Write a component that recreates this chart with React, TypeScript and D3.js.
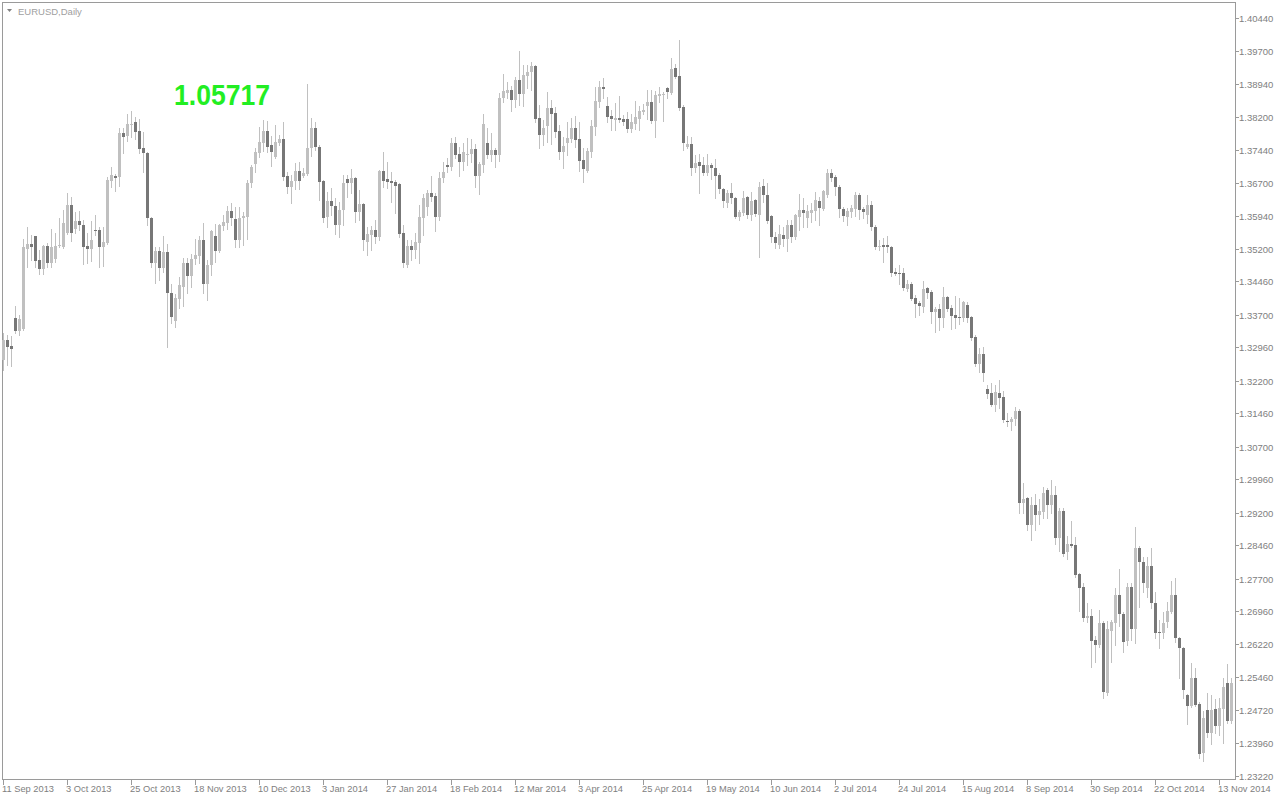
import React from 'react';
import * as d3 from 'd3';

const SYMBOL = 'EURUSD,Daily';
const OVERLAY_VALUE = '1.05717';

const DATE_LABELS = [
  '11 Sep 2013', '3 Oct 2013', '25 Oct 2013', '18 Nov 2013', '10 Dec 2013',
  '3 Jan 2014', '27 Jan 2014', '18 Feb 2014', '12 Mar 2014', '3 Apr 2014',
  '25 Apr 2014', '19 May 2014', '10 Jun 2014', '2 Jul 2014', '24 Jul 2014',
  '15 Aug 2014', '8 Sep 2014', '30 Sep 2014', '22 Oct 2014', '13 Nov 2014',
];
const BARS_PER_LABEL = 16;

const PRICE_TICKS = [
  1.4044, 1.397, 1.3894, 1.382, 1.3744, 1.367, 1.3594, 1.352, 1.3446, 1.337,
  1.3296, 1.322, 1.3146, 1.307, 1.2996, 1.292, 1.2846, 1.277, 1.2696, 1.2622,
  1.2546, 1.2472, 1.2396, 1.2322,
];

const OPEN = [
  1.3267, 1.3313, 1.3299, 1.3363, 1.3333, 1.3338, 1.3519, 1.3531, 1.3549, 1.3494,
  1.3474, 1.3526, 1.3488, 1.3497, 1.3526, 1.3524, 1.3556, 1.3619, 1.3565, 1.3583,
  1.3574, 1.3526, 1.3519, 1.3562, 1.3562, 1.3524, 1.3533, 1.3674, 1.3685, 1.3683,
  1.3783, 1.3776, 1.3803, 1.3808, 1.3787, 1.3749, 1.3737, 1.3590, 1.3488, 1.3515,
  1.3476, 1.3513, 1.3419, 1.3356, 1.3406, 1.3433, 1.3488, 1.3458, 1.3497, 1.3503,
  1.3540, 1.3440, 1.3483, 1.3549, 1.3515, 1.3572, 1.3578, 1.3606, 1.3587, 1.3540,
  1.3590, 1.3592, 1.3669, 1.3712, 1.3737, 1.3760, 1.3787, 1.3756, 1.3728, 1.3760,
  1.3769, 1.3685, 1.3660, 1.3674, 1.3696, 1.3685, 1.3690, 1.3749, 1.3794, 1.3751,
  1.3674, 1.3592, 1.3628, 1.3617, 1.3574, 1.3608, 1.3678, 1.3669, 1.3681, 1.3603,
  1.3621, 1.3535, 1.3551, 1.3562, 1.3547, 1.3696, 1.3678, 1.3674, 1.3671, 1.3667,
  1.3556, 1.3483, 1.3526, 1.3517, 1.3533, 1.3590, 1.3615, 1.3647, 1.3640, 1.3592,
  1.3681, 1.3710, 1.3706, 1.3760, 1.3735, 1.3717, 1.3735, 1.3735, 1.3746, 1.3685,
  1.3710, 1.3760, 1.3733, 1.3744, 1.3733, 1.3862, 1.3874, 1.3880, 1.3858, 1.3903,
  1.3871, 1.3912, 1.3921, 1.3935, 1.3817, 1.3778, 1.3799, 1.3840, 1.3828, 1.3787,
  1.3740, 1.3760, 1.3769, 1.3794, 1.3769, 1.3721, 1.3696, 1.3740, 1.3796, 1.3853,
  1.3887, 1.3844, 1.3821, 1.3812, 1.3817, 1.3815, 1.3815, 1.3792, 1.3803, 1.3815,
  1.3830, 1.3844, 1.3853, 1.3810, 1.3867, 1.3869, 1.3885, 1.3874, 1.3930, 1.3912,
  1.3842, 1.3751, 1.3758, 1.3703, 1.3717, 1.3710, 1.3692, 1.3710, 1.3703, 1.3687,
  1.3656, 1.3624, 1.3647, 1.3635, 1.3592, 1.3601, 1.3637, 1.3596, 1.3631, 1.3596,
  1.3662, 1.3642, 1.3594, 1.3547, 1.3528, 1.3551, 1.3542, 1.3574, 1.3547, 1.3592,
  1.3608, 1.3590, 1.3601, 1.3606, 1.3628, 1.3610, 1.3642, 1.3692, 1.3683, 1.3660,
  1.3610, 1.3592, 1.3603, 1.3610, 1.3642, 1.3610, 1.3596, 1.3619, 1.3569, 1.3524,
  1.3528, 1.3528, 1.3524, 1.3467, 1.3465, 1.3465, 1.3428, 1.3440, 1.3408, 1.3397,
  1.3388, 1.3431, 1.3422, 1.3376, 1.3383, 1.3363, 1.3410, 1.3385, 1.3369, 1.3365,
  1.3363, 1.3392, 1.3365, 1.3319, 1.3258, 1.3281, 1.3201, 1.3192, 1.3165, 1.3192,
  1.3183, 1.3129, 1.3126, 1.3133, 1.3151, 1.2942, 1.2954, 1.2892, 1.2938, 1.2915,
  1.2922, 1.2972, 1.2938, 1.2961, 1.2863, 1.2924, 1.2831, 1.2849, 1.2847, 1.2781,
  1.2751, 1.2681, 1.2686, 1.2631, 1.2620, 1.2670, 1.2511, 1.2651, 1.2670, 1.2733,
  1.2690, 1.2629, 1.2751, 1.2656, 1.2840, 1.2808, 1.2749, 1.2799, 1.2715, 1.2649,
  1.2647, 1.2672, 1.2695, 1.2733, 1.2636, 1.2613, 1.2507, 1.2480, 1.2545, 1.2485,
  1.2374, 1.2472, 1.2420, 1.2474, 1.2436, 1.2474, 1.2533, 1.2447,
];

const HIGH = [
  1.3328, 1.3324, 1.3322, 1.3390, 1.3369, 1.3542, 1.3569, 1.3551, 1.3549, 1.3517,
  1.3528, 1.3533, 1.3565, 1.3556, 1.3590, 1.3608, 1.3647, 1.3637, 1.3603, 1.3606,
  1.3585, 1.3556, 1.3583, 1.3596, 1.3569, 1.3569, 1.3683, 1.3706, 1.3690, 1.3794,
  1.3794, 1.3826, 1.3833, 1.3819, 1.3815, 1.3785, 1.3740, 1.3592, 1.3524, 1.3524,
  1.3549, 1.3531, 1.3440, 1.3417, 1.3456, 1.3499, 1.3499, 1.3508, 1.3542, 1.3549,
  1.3578, 1.3494, 1.3562, 1.3576, 1.3576, 1.3596, 1.3617, 1.3624, 1.3615, 1.3615,
  1.3603, 1.3676, 1.3710, 1.3749, 1.3796, 1.3812, 1.3810, 1.3776, 1.3801, 1.3778,
  1.3808, 1.3694, 1.3687, 1.3715, 1.3717, 1.3703, 1.3894, 1.3817, 1.3808, 1.3756,
  1.3676, 1.3649, 1.3658, 1.3635, 1.3626, 1.3687, 1.3687, 1.3701, 1.3683, 1.3653,
  1.3624, 1.3569, 1.3572, 1.3585, 1.3699, 1.3740, 1.3717, 1.3694, 1.3676, 1.3669,
  1.3574, 1.3540, 1.3540, 1.3556, 1.3619, 1.3644, 1.3653, 1.3685, 1.3647, 1.3694,
  1.3717, 1.3726, 1.3771, 1.3774, 1.3751, 1.3760, 1.3771, 1.3769, 1.3758, 1.3717,
  1.3826, 1.3794, 1.3783, 1.3749, 1.3874, 1.3917, 1.3899, 1.3890, 1.3910, 1.3969,
  1.3937, 1.3937, 1.3944, 1.3937, 1.3846, 1.3812, 1.3876, 1.3858, 1.3842, 1.3801,
  1.3774, 1.3808, 1.3817, 1.3821, 1.3808, 1.3749, 1.3749, 1.3812, 1.3887, 1.3901,
  1.3908, 1.3864, 1.3835, 1.3851, 1.3867, 1.3824, 1.3830, 1.3826, 1.3855, 1.3844,
  1.3849, 1.3880, 1.3880, 1.3878, 1.3887, 1.3876, 1.3887, 1.3953, 1.3940, 1.3994,
  1.3846, 1.3776, 1.3774, 1.3733, 1.3735, 1.3728, 1.3735, 1.3715, 1.3724, 1.3692,
  1.3658, 1.3653, 1.3669, 1.3637, 1.3608, 1.3651, 1.3640, 1.3649, 1.3633, 1.3671,
  1.3678, 1.3669, 1.3596, 1.3558, 1.3574, 1.3569, 1.3585, 1.3585, 1.3599, 1.3644,
  1.3635, 1.3619, 1.3624, 1.3649, 1.3637, 1.3653, 1.3701, 1.3701, 1.3687, 1.3665,
  1.3615, 1.3612, 1.3619, 1.3649, 1.3647, 1.3615, 1.3642, 1.3628, 1.3574, 1.3540,
  1.3544, 1.3549, 1.3526, 1.3476, 1.3483, 1.3476, 1.3449, 1.3444, 1.3415, 1.3401,
  1.3447, 1.3433, 1.3426, 1.3388, 1.3394, 1.3433, 1.3413, 1.3392, 1.3413, 1.3408,
  1.3401, 1.3399, 1.3367, 1.3324, 1.3294, 1.3297, 1.3210, 1.3215, 1.3210, 1.3222,
  1.3197, 1.3147, 1.3138, 1.3160, 1.3156, 1.2988, 1.2956, 1.2956, 1.2963, 1.2951,
  1.2979, 1.2976, 1.2995, 1.2981, 1.2931, 1.2931, 1.2867, 1.2901, 1.2865, 1.2783,
  1.2760, 1.2715, 1.2702, 1.2640, 1.2700, 1.2674, 1.2674, 1.2677, 1.2749, 1.2792,
  1.2695, 1.2760, 1.2760, 1.2888, 1.2845, 1.2819, 1.2819, 1.2840, 1.2740, 1.2677,
  1.2695, 1.2717, 1.2765, 1.2772, 1.2638, 1.2615, 1.2509, 1.2579, 1.2567, 1.2490,
  1.2470, 1.2511, 1.2507, 1.2497, 1.2499, 1.2545, 1.2576, 1.2545,
];

const LOW = [
  1.3244, 1.3256, 1.3253, 1.3328, 1.3324, 1.3335, 1.3478, 1.3494, 1.3478, 1.3462,
  1.3462, 1.3478, 1.3478, 1.3490, 1.3524, 1.3522, 1.3554, 1.3537, 1.3556, 1.3562,
  1.3485, 1.3488, 1.3492, 1.3551, 1.3478, 1.3481, 1.3531, 1.3660, 1.3651, 1.3662,
  1.3737, 1.3765, 1.3774, 1.3769, 1.3737, 1.3694, 1.3574, 1.3478, 1.3442, 1.3449,
  1.3467, 1.3297, 1.3351, 1.3342, 1.3385, 1.3390, 1.3419, 1.3433, 1.3485, 1.3488,
  1.3419, 1.3403, 1.3460, 1.3490, 1.3513, 1.3562, 1.3565, 1.3574, 1.3524, 1.3524,
  1.3528, 1.3542, 1.3660, 1.3694, 1.3728, 1.3742, 1.3740, 1.3708, 1.3726, 1.3756,
  1.3676, 1.3647, 1.3624, 1.3656, 1.3656, 1.3683, 1.3687, 1.3731, 1.3744, 1.3631,
  1.3581, 1.3569, 1.3596, 1.3553, 1.3547, 1.3574, 1.3637, 1.3647, 1.3581, 1.3585,
  1.3517, 1.3506, 1.3517, 1.3533, 1.3540, 1.3660, 1.3658, 1.3626, 1.3601, 1.3547,
  1.3478, 1.3478, 1.3494, 1.3499, 1.3488, 1.3551, 1.3596, 1.3628, 1.3560, 1.3585,
  1.3671, 1.3694, 1.3699, 1.3726, 1.3685, 1.3699, 1.3710, 1.3717, 1.3660, 1.3644,
  1.3694, 1.3726, 1.3719, 1.3706, 1.3719, 1.3853, 1.3862, 1.3833, 1.3842, 1.3846,
  1.3844, 1.3885, 1.3880, 1.3808, 1.3749, 1.3756, 1.3762, 1.3758, 1.3774, 1.3724,
  1.3703, 1.3733, 1.3762, 1.3751, 1.3696, 1.3671, 1.3694, 1.3728, 1.3778, 1.3842,
  1.3862, 1.3808, 1.3790, 1.3790, 1.3808, 1.3801, 1.3785, 1.3785, 1.3792, 1.3790,
  1.3826, 1.3815, 1.3806, 1.3774, 1.3853, 1.3810, 1.3862, 1.3871, 1.3908, 1.3835,
  1.3744, 1.3749, 1.3687, 1.3694, 1.3647, 1.3687, 1.3687, 1.3678, 1.3635, 1.3647,
  1.3615, 1.3615, 1.3624, 1.3590, 1.3585, 1.3596, 1.3590, 1.3585, 1.3594, 1.3501,
  1.3626, 1.3578, 1.3535, 1.3522, 1.3522, 1.3526, 1.3515, 1.3535, 1.3542, 1.3562,
  1.3569, 1.3569, 1.3581, 1.3585, 1.3574, 1.3608, 1.3637, 1.3674, 1.3642, 1.3592,
  1.3583, 1.3574, 1.3592, 1.3594, 1.3587, 1.3590, 1.3578, 1.3562, 1.3519, 1.3517,
  1.3490, 1.3513, 1.3458, 1.3460, 1.3440, 1.3426, 1.3424, 1.3403, 1.3365, 1.3369,
  1.3376, 1.3408, 1.3351, 1.3331, 1.3335, 1.3342, 1.3378, 1.3338, 1.3340, 1.3349,
  1.3356, 1.3353, 1.3313, 1.3253, 1.3240, 1.3219, 1.3181, 1.3163, 1.3151, 1.3158,
  1.3126, 1.3117, 1.3108, 1.3119, 1.2920, 1.2920, 1.2881, 1.2858, 1.2881, 1.2895,
  1.2908, 1.2908, 1.2920, 1.2849, 1.2833, 1.2822, 1.2816, 1.2842, 1.2774, 1.2697,
  1.2674, 1.2672, 1.2570, 1.2581, 1.2616, 1.2499, 1.2506, 1.2581, 1.2620, 1.2663,
  1.2604, 1.2620, 1.2631, 1.2624, 1.2706, 1.2740, 1.2729, 1.2704, 1.2636, 1.2613,
  1.2636, 1.2661, 1.2692, 1.2627, 1.2545, 1.2499, 1.2441, 1.2478, 1.2481, 1.2363,
  1.2356, 1.2411, 1.2395, 1.2420, 1.2415, 1.2397, 1.2443, 1.2443,
];

const CLOSE = [
  1.3313, 1.3297, 1.3292, 1.3333, 1.3360, 1.3524, 1.3531, 1.3524, 1.3492, 1.3474,
  1.3526, 1.3488, 1.3524, 1.3526, 1.3528, 1.3578, 1.3619, 1.3556, 1.3583, 1.3574,
  1.3524, 1.3519, 1.3540, 1.3560, 1.3524, 1.3535, 1.3676, 1.3687, 1.3681, 1.3783,
  1.3774, 1.3803, 1.3804, 1.3785, 1.3746, 1.3737, 1.3590, 1.3488, 1.3515, 1.3476,
  1.3513, 1.3419, 1.3365, 1.3408, 1.3437, 1.3488, 1.3458, 1.3497, 1.3506, 1.3540,
  1.3440, 1.3483, 1.3560, 1.3515, 1.3574, 1.3581, 1.3606, 1.3590, 1.3540, 1.3590,
  1.3594, 1.3669, 1.3706, 1.3740, 1.3762, 1.3787, 1.3751, 1.3740, 1.3762, 1.3769,
  1.3683, 1.3660, 1.3674, 1.3696, 1.3674, 1.3692, 1.3749, 1.3794, 1.3751, 1.3671,
  1.3590, 1.3628, 1.3617, 1.3574, 1.3608, 1.3669, 1.3669, 1.3681, 1.3603, 1.3621,
  1.3540, 1.3553, 1.3562, 1.3547, 1.3696, 1.3674, 1.3671, 1.3669, 1.3662, 1.3553,
  1.3488, 1.3526, 1.3517, 1.3535, 1.3592, 1.3635, 1.3647, 1.3637, 1.3592, 1.3681,
  1.3694, 1.3706, 1.3760, 1.3733, 1.3717, 1.3740, 1.3736, 1.3746, 1.3685, 1.3712,
  1.3803, 1.3733, 1.3744, 1.3733, 1.3862, 1.3878, 1.3880, 1.3858, 1.3903, 1.3871,
  1.3915, 1.3921, 1.3935, 1.3815, 1.3778, 1.3794, 1.3840, 1.3826, 1.3785, 1.3740,
  1.3753, 1.3771, 1.3794, 1.3767, 1.3719, 1.3701, 1.3742, 1.3799, 1.3855, 1.3887,
  1.3883, 1.3819, 1.3815, 1.3817, 1.3812, 1.3808, 1.3792, 1.3808, 1.3819, 1.3833,
  1.3835, 1.3853, 1.3810, 1.3869, 1.3871, 1.3871, 1.3876, 1.3928, 1.3910, 1.3840,
  1.3760, 1.3758, 1.3703, 1.3715, 1.3708, 1.3692, 1.3710, 1.3703, 1.3685, 1.3656,
  1.3628, 1.3647, 1.3635, 1.3592, 1.3603, 1.3635, 1.3596, 1.3628, 1.3599, 1.3660,
  1.3642, 1.3583, 1.3547, 1.3533, 1.3553, 1.3542, 1.3574, 1.3547, 1.3596, 1.3608,
  1.3601, 1.3606, 1.3608, 1.3631, 1.3612, 1.3651, 1.3692, 1.3681, 1.3660, 1.3610,
  1.3594, 1.3606, 1.3612, 1.3642, 1.3608, 1.3603, 1.3619, 1.3569, 1.3524, 1.3526,
  1.3524, 1.3524, 1.3465, 1.3462, 1.3464, 1.3431, 1.3440, 1.3406, 1.3394, 1.3390,
  1.3428, 1.3419, 1.3376, 1.3383, 1.3363, 1.3410, 1.3383, 1.3367, 1.3363, 1.3364,
  1.3399, 1.3363, 1.3317, 1.3258, 1.3281, 1.3238, 1.3190, 1.3165, 1.3194, 1.3181,
  1.3131, 1.3128, 1.3133, 1.3151, 1.2942, 1.2951, 1.2892, 1.2938, 1.2915, 1.2924,
  1.2965, 1.2938, 1.2961, 1.2863, 1.2924, 1.2826, 1.2849, 1.2845, 1.2779, 1.2749,
  1.2681, 1.2686, 1.2629, 1.2620, 1.2670, 1.2513, 1.2656, 1.2672, 1.2733, 1.2690,
  1.2626, 1.2751, 1.2656, 1.2840, 1.2808, 1.2760, 1.2799, 1.2715, 1.2647, 1.2646,
  1.2670, 1.2697, 1.2733, 1.2636, 1.2613, 1.2518, 1.2480, 1.2545, 1.2483, 1.2372,
  1.2454, 1.2420, 1.2472, 1.2436, 1.2477, 1.2524, 1.2447, 1.2533,
];

const FONT = "'Liberation Sans', Arial, sans-serif";
const AXIS_COLOR = '#9a9a9a';
const TEXT_COLOR = '#808080';
const BULL_COLOR = '#c0c0c0';
const BEAR_COLOR = '#777777';
const WICK_COLOR = '#c0c0c0';

export default function App() {
  const width = 1280;
  const height = 800;
  const frameLeft = 2;
  const frameTop = 2;
  const frameRight = 1235;
  const frameBottom = 779;

  const n = OPEN.length;
  const x = d3.scaleLinear().domain([0, n - 1]).range([3, 3 + 4 * (n - 1)]);
  const y = d3.scaleLinear().domain([1.2322, 1.4044]).range([776, 18]);

  const bars = d3.range(n).map((i) => {
    const o = OPEN[i], h = HIGH[i], l = LOW[i], c = CLOSE[i];
    const xc = Math.round(x(i));
    const yTop = Math.round(y(Math.max(o, c)));
    const yBot = Math.round(y(Math.min(o, c)));
    const yH = Math.round(y(h));
    const yL = Math.round(y(l));
    return { i, xc, yTop, yBot, yH, yL, bull: c >= o };
  });

  return (
    <svg
      width={width}
      height={height}
      style={{ position: 'absolute', left: 0, top: 0, background: '#ffffff' }}
      shapeRendering="crispEdges"
    >
      <rect x={0} y={0} width={width} height={height} fill="#ffffff" />

      {/* frame */}
      <line x1={frameLeft + 0.5} y1={frameTop} x2={frameLeft + 0.5} y2={frameBottom + 1} stroke={AXIS_COLOR} />
      <line x1={frameLeft} y1={frameTop + 0.5} x2={frameRight + 1} y2={frameTop + 0.5} stroke={AXIS_COLOR} />
      <line x1={frameRight + 0.5} y1={frameTop} x2={frameRight + 0.5} y2={frameBottom + 1} stroke={AXIS_COLOR} />
      <line x1={frameLeft} y1={frameBottom + 0.5} x2={frameRight + 1} y2={frameBottom + 0.5} stroke={AXIS_COLOR} />

      {/* wicks */}
      <g fill={WICK_COLOR}>
        {bars.map((b) => (
          <rect key={'w' + b.i} x={b.xc} y={b.yH} width={1} height={Math.max(1, b.yL - b.yH + 1)} />
        ))}
      </g>
      {/* bodies */}
      <g>
        {bars.map((b) => (
          <rect
            key={'b' + b.i}
            x={b.xc - 1}
            y={b.yTop}
            width={3}
            height={Math.max(1, b.yBot - b.yTop)}
            fill={b.bull ? BULL_COLOR : BEAR_COLOR}
          />
        ))}
      </g>

      {/* price axis */}
      <g fontFamily={FONT} fontSize={9.5} fill={TEXT_COLOR}>
        {PRICE_TICKS.map((p) => {
          const yy = Math.round(y(p));
          return (
            <g key={'p' + p}>
              <rect x={frameRight + 1} y={yy} width={3} height={1} fill={AXIS_COLOR} />
              <text x={1239} y={yy + 3.5} shapeRendering="auto">{p.toFixed(5)}</text>
            </g>
          );
        })}
      </g>

      {/* time axis */}
      <g fontFamily={FONT} fontSize={9.3} fill={TEXT_COLOR}>
        {DATE_LABELS.map((lbl, k) => {
          const xx = Math.round(x(k * BARS_PER_LABEL));
          return (
            <g key={'d' + k}>
              <rect x={xx} y={frameBottom + 1} width={1} height={5} fill={AXIS_COLOR} />
              <text x={xx - 1} y={792} shapeRendering="auto">{lbl}</text>
            </g>
          );
        })}
      </g>

      {/* header */}
      <polygon points="7,9 12,9 9.5,12" fill="#808080" shapeRendering="auto" />
      <text x={18} y={14.5} fontFamily={FONT} fontSize={9.5} fill="#a0a0a0">{SYMBOL}</text>

      {/* overlay value */}
      <text
        x={174}
        y={105}
        fontFamily={FONT}
        fontWeight="bold"
        fontSize={29}
        fill="#22ee22"
        textLength={96}
        lengthAdjust="spacingAndGlyphs"
      >
        {OVERLAY_VALUE}
      </text>
    </svg>
  );
}
